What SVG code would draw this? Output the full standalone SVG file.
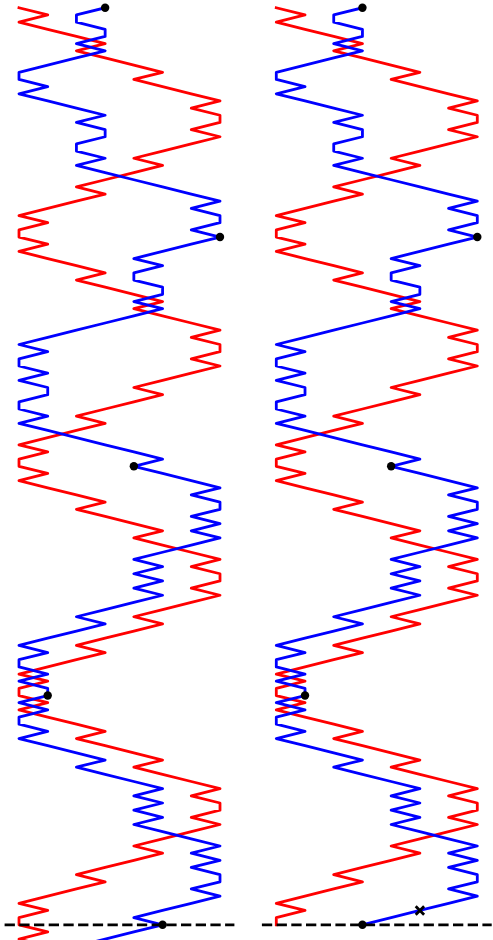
<svg xmlns="http://www.w3.org/2000/svg" width="493" height="940" viewBox="0 0 493 940">
<style>
.walk{fill:none;stroke-width:2.8;stroke-linejoin:round;stroke-linecap:square;vector-effect:non-scaling-stroke}
.red{stroke:#ff0000}
.blue{stroke:#0000ff}
.base{stroke:#000;stroke-width:2.8;stroke-dasharray:10.3 4.4;fill:none}
.dot{fill:#000}
.cross{stroke:#000;stroke-width:2.8;stroke-linecap:butt}
</style>
<rect width="493" height="940" fill="#fff"/>
<!-- walks are given in lattice units: x = column 0..7, y = step index -->
<g id="connectors">
  <g id="left-walks" transform="matrix(28.714 0 0 7.164 19 7.8)">
    <polyline class="walk red" points="0,0 1,1 0,2 1,3 2,4 3,5 2,6 3,7 4,8 5,9 4,10 5,11 6,12 7,13 6,14 7,15 7,16 6,17 7,18 6,19 5,20 4,21 5,22 4,23 3,24 2,25 3,26 2,27 1,28 0,29 1,30 0,31 0,32 1,33 0,34 1,35 2,36 3,37 2,38 3,39 4,40 5,41 4,42 5,43 6,44 7,45 6,46 7,47 7,48 6,49 7,50 6,51 5,52 4,53 5,54 4,55 3,56 2,57 3,58 2,59 1,60 0,61 1,62 0,63 0,64 1,65 0,66 1,67 2,68 3,69 2,70 3,71 4,72 5,73 4,74 5,75 6,76 7,77 6,78 7,79 7,80 6,81 7,82 6,83 5,84 4,85 5,86 4,87 3,88 2,89 3,90 2,91 1,92 0,93 1,94 0,95 0,96 1,97 0,98 1,99 2,100 3,101 2,102 3,103 4,104 5,105 4,106 5,107 6,108 7,109 6,110 7,111 7,112 6,113 7,114 6,115 5,116 4,117 5,118 4,119 3,120 2,121 3,122 2,123 1,124 0,125 1,126 0,127 0,128 1,129 0,130 1,131"/>
    <polyline class="walk blue" points="3,0 2,1 2,2 3,3 3,4 2,5 3,6 2,7 1,8 0,9 0,10 1,11 0,12 1,13 2,14 3,15 2,16 3,17 3,18 2,19 2,20 3,21 2,22 3,23 4,24 5,25 6,26 7,27 6,28 7,29 7,30 6,31 7,32 6,33 5,34 4,35 5,36 4,37 4,38 5,39 5,40 4,41 5,42 4,43 3,44 2,45 1,46 0,47 1,48 0,49 0,50 1,51 0,52 1,53 1,54 0,55 0,56 1,57 0,58 1,59 2,60 3,61 4,62 5,63 4,64 5,65 6,66 7,67 6,68 7,69 7,70 6,71 7,72 6,73 7,74 6,75 5,76 4,77 5,78 4,79 5,80 4,81 5,82 4,83 3,84 2,85 3,86 2,87 1,88 0,89 1,90 0,91 0,92 1,93 0,94 1,95 1,96 0,97 1,98 0,99 0,100 1,101 0,102 1,103 2,104 3,105 2,106 3,107 4,108 5,109 4,110 5,111 4,112 5,113 4,114 5,115 6,116 7,117 6,118 7,119 6,120 7,121 7,122 6,123 7,124 6,125 5,126 4,127 5,128 4,129 3,130 2,131"/>
  </g>
  <g id="right-walks" transform="matrix(28.714 0 0 7.164 276.3 7.8)">
    <polyline class="walk red" points="0,0 1,1 0,2 1,3 2,4 3,5 2,6 3,7 4,8 5,9 4,10 5,11 6,12 7,13 6,14 7,15 7,16 6,17 7,18 6,19 5,20 4,21 5,22 4,23 3,24 2,25 3,26 2,27 1,28 0,29 1,30 0,31 0,32 1,33 0,34 1,35 2,36 3,37 2,38 3,39 4,40 5,41 4,42 5,43 6,44 7,45 6,46 7,47 7,48 6,49 7,50 6,51 5,52 4,53 5,54 4,55 3,56 2,57 3,58 2,59 1,60 0,61 1,62 0,63 0,64 1,65 0,66 1,67 2,68 3,69 2,70 3,71 4,72 5,73 4,74 5,75 6,76 7,77 6,78 7,79 7,80 6,81 7,82 6,83 5,84 4,85 5,86 4,87 3,88 2,89 3,90 2,91 1,92 0,93 1,94 0,95 0,96 1,97 0,98 1,99 2,100 3,101 2,102 3,103 4,104 5,105 4,106 5,107 6,108 7,109 6,110 7,111 7,112 6,113 7,114 6,115 5,116 4,117 5,118 4,119 3,120 2,121 3,122 2,123 1,124 0,125 1,126 0,127 0,128"/>
    <polyline class="walk blue" points="3,0 2,1 2,2 3,3 3,4 2,5 3,6 2,7 1,8 0,9 0,10 1,11 0,12 1,13 2,14 3,15 2,16 3,17 3,18 2,19 2,20 3,21 2,22 3,23 4,24 5,25 6,26 7,27 6,28 7,29 7,30 6,31 7,32 6,33 5,34 4,35 5,36 4,37 4,38 5,39 5,40 4,41 5,42 4,43 3,44 2,45 1,46 0,47 1,48 0,49 0,50 1,51 0,52 1,53 1,54 0,55 0,56 1,57 0,58 1,59 2,60 3,61 4,62 5,63 4,64 5,65 6,66 7,67 6,68 7,69 7,70 6,71 7,72 6,73 7,74 6,75 5,76 4,77 5,78 4,79 5,80 4,81 5,82 4,83 3,84 2,85 3,86 2,87 1,88 0,89 1,90 0,91 0,92 1,93 0,94 1,95 1,96 0,97 1,98 0,99 0,100 1,101 0,102 1,103 2,104 3,105 2,106 3,107 4,108 5,109 4,110 5,111 4,112 5,113 4,114 5,115 6,116 7,117 6,118 7,119 6,120 7,121 7,122 6,123 7,124 6,125 5,126 4,127 3,128"/>
  </g>
  <line id="left-baseline" class="base" x1="4.6" y1="924.8" x2="234.4" y2="924.8"/>
  <line id="right-baseline" class="base" x1="261.9" y1="924.8" x2="491.7" y2="924.8"/>
</g>
<!-- marked positions at every 32nd step -->
<g id="left-s0"><circle class="dot" cx="105.14" cy="7.8" r="4.2"/></g>
<g id="left-s32"><circle class="dot" cx="220" cy="237.05" r="4.2"/></g>
<g id="left-s64"><circle class="dot" cx="133.86" cy="466.3" r="4.2"/></g>
<g id="left-s96"><circle class="dot" cx="47.71" cy="695.55" r="4.2"/></g>
<g id="left-s128"><circle class="dot" cx="162.57" cy="924.8" r="4.2"/></g>
<g id="right-s0"><circle class="dot" cx="362.44" cy="7.8" r="4.2"/></g>
<g id="right-s32"><circle class="dot" cx="477.3" cy="237.05" r="4.2"/></g>
<g id="right-s64"><circle class="dot" cx="391.16" cy="466.3" r="4.2"/></g>
<g id="right-s96"><circle class="dot" cx="305.01" cy="695.55" r="4.2"/></g>
<g id="right-s128"><circle class="dot" cx="362.44" cy="924.8" r="4.2"/></g>
<g id="right-cross"><path class="cross" d="M415.7 906.3 L424.1 914.7 M415.7 914.7 L424.1 906.3"/></g>
</svg>
